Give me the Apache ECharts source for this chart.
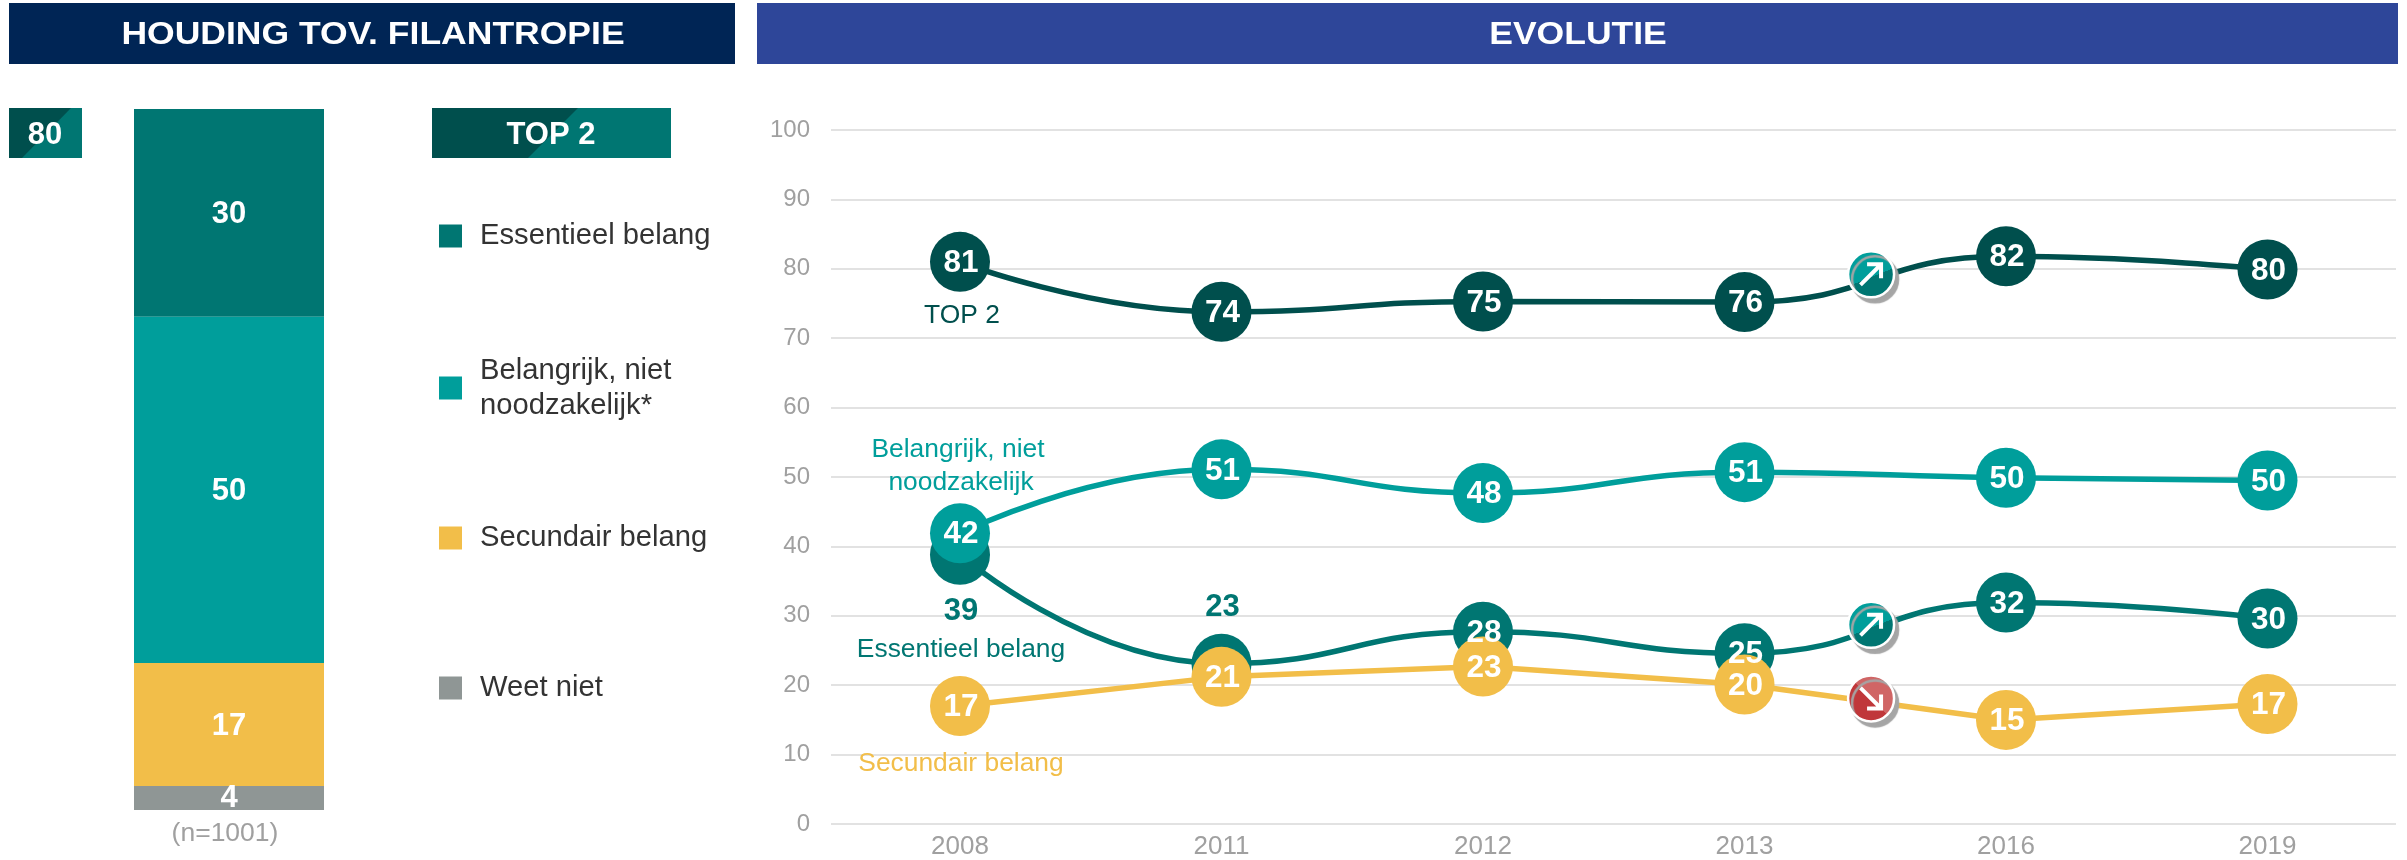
<!DOCTYPE html>
<html><head><meta charset="utf-8">
<style>html,body{margin:0;padding:0;background:#fff}#c{width:2407px;height:860px}</style>
<script src="https://cdn.jsdelivr.net/npm/echarts@6/dist/echarts.min.js"></script>
</head><body><div id="c"></div>
<script>
const years = ['2008','2011','2012','2013','2016','2019'];
const top2Values = [81,73.8,75.3,75.2,81.8,79.9];
const top2Labels = [81,74,75,76,82,80];
const essentieelValues = [38.8,23.1,27.7,24.6,31.9,29.6];
const essentieelLabels = [39,23,28,25,32,30];
const belangrijkValues = [41.9,51.1,47.7,50.7,49.9,49.5];
const belangrijkLabels = [42,51,48,51,50,50];
const secundairValues = [17,21.2,22.7,20.1,15,17.3];
const secundairLabels = [17,21,23,20,15,17];
const arrowUpPoints = [[3.484,79.2],[3.484,28.7]];
const arrowDownPoints = [[3.484,18.1]];
const barNames = ['Essentieel belang','Belangrijk, niet noodzakelijk*','Secundair belang','Weet niet'];
const barValues = [30,50,17.75,3.46];
const barLabels = [30,50,17,4];
const COL = {top2:'#004F4D',ess:'#007672',bel:'#009E9B',sec:'#F2BE49',wn:'#8F9695'};
const FONT = '"Liberation Sans", Arial, sans-serif';
const barColors = [COL.ess,COL.bel,COL.sec,COL.wn];
const legendTops = [236,388,538,688];

const chart = echarts.init(document.getElementById('c'),null,{renderer:'canvas'});

function bar(i){
  return {type:'bar',name:barNames[i],stack:'a',xAxisIndex:1,yAxisIndex:1,barWidth:'100%',
    itemStyle:{color:barColors[i]},data:[barValues[i]],z:2,
    label:{show:true,position:'inside',offset:[0,i===3?0:2],formatter:String(barLabels[i]),color:'#fff',fontFamily:FONT,fontWeight:'bold',fontSize:31}};
}
function line(name,color,vals,labs,smooth,extra){
  return {type:'line',name,xAxisIndex:0,yAxisIndex:0,smooth,symbol:'circle',symbolSize:60,
    showSymbol:true,lineStyle:{color,width:5.5},itemStyle:{color},z:3,
    data:vals.map((v,i)=>{
      const d={value:[i,v],label:{formatter:String(labs[i])}};
      if(extra&&extra[i]) d.label=Object.assign(d.label,extra[i]);
      return d;
    }),
    label:{show:true,position:'inside',offset:[1,1.5],color:'#fff',fontFamily:FONT,fontWeight:'bold',fontSize:31.5}};
}
function split(x,y,x2,y2,a,b,p){
  return {type:'linear',x,y,x2,y2,colorStops:[{offset:0,color:a},{offset:p,color:a},{offset:p,color:b},{offset:1,color:b}]};
}
function badgeCircle(data,fill){
  return {type:'scatter',xAxisIndex:0,yAxisIndex:0,symbol:'circle',symbolSize:46,data,z:5,silent:true,
    itemStyle:{opacity:1,color:fill,borderColor:'#fff',borderWidth:2.5,shadowColor:'#a5a5a5',shadowOffsetX:4,shadowOffsetY:5,shadowBlur:1}};
}
function badgeArrow(data,path){
  return {type:'scatter',xAxisIndex:0,yAxisIndex:0,symbol:path,symbolSize:24,data,z:6,silent:true,itemStyle:{opacity:1,color:'#fff'}};
}
const ARROW_UP='path://M8 0L24 0L24 16L20 16L20 6.8L2.8 24L0 21.2L17.2 4L8 4Z';
const ARROW_DOWN='path://M8 24L24 24L24 8L20 8L20 17.2L2.8 0L0 2.8L17.2 20L8 20Z';

function head(x,w,color,text,cx){
  return [
    {type:'rect',shape:{x,y:3,width:w,height:61},style:{fill:color},silent:true},
    {type:'text',x:cx,y:35,scaleX:1.11,style:{text,fill:'#fff',font:'bold 32px '+FONT,align:'center',verticalAlign:'middle'},silent:true}
  ];
}
function badge(x0,x1,xt,xb,text,cx,right){
  return [
    {type:'rect',shape:{x:x0,y:108,width:x1-x0,height:50},style:{fill:right},silent:true},
    {type:'polygon',shape:{points:[[x0,108],[xt,108],[xb,158],[x0,158]]},style:{fill:COL.top2},silent:true},
    {type:'text',x:cx,y:135,style:{text,fill:'#fff',font:'bold 31px '+FONT,align:'center',verticalAlign:'middle'},silent:true}
  ];
}
function note(text,cx,cy,color){
  return {type:'text',x:cx,y:cy+1,z:20,style:{text,fill:color,font:'26.4px '+FONT,align:'center',verticalAlign:'middle'},silent:true};
}

chart.setOption({
  animation:false,
  backgroundColor:'#fff',
  grid:[
    {left:831,top:130,width:1565,height:694},
    {left:134,top:109,width:190,height:701}
  ],
  xAxis:[
    {type:'value',gridIndex:0,min:-0.4933,max:5.4914,splitLine:{show:false},axisLine:{show:false},axisTick:{show:false},
     axisLabel:{customValues:[0,1,2,3,4,5],formatter:v=>years[Math.round(v)],color:'#A0A0A0',fontFamily:FONT,fontSize:26,margin:10,showMinLabel:true,showMaxLabel:true}},
    {type:'category',gridIndex:1,data:['(n=1001)'],axisLine:{show:false},axisTick:{show:false},
     axisLabel:{color:'#A0A0A0',fontFamily:FONT,fontSize:26.5,margin:10,padding:[0,8,0,0]}}
  ],
  yAxis:[
    {type:'value',gridIndex:0,min:0,max:100,interval:10,axisLine:{show:false},axisTick:{show:false},
     axisLabel:{color:'#A0A0A0',fontFamily:FONT,fontSize:24,margin:21},
     splitLine:{show:true,lineStyle:{color:'#E2E2E2',width:2}}},
    {type:'value',gridIndex:1,inverse:true,min:0,max:101.21,show:false,splitLine:{show:false}}
  ],
  legend:barNames.map((n,i)=>({
    data:[{name:n,icon:'rect'}],left:439,top:legendTops[i]-(i===1?35:17.5),selectedMode:false,
    orient:'vertical',padding:0,itemWidth:23,itemHeight:23,
    formatter:s=>s.replace('niet noodzakelijk','niet\nnoodzakelijk'),
    textStyle:{color:'#333',fontFamily:FONT,fontSize:29.2,lineHeight:35,padding:[0,0,0,13]}
  })),
  series:[
    bar(0),bar(1),bar(2),bar(3),
    line('TOP 2',COL.top2,top2Values,top2Labels,true),
    line('Essentieel belang ',COL.ess,essentieelValues,essentieelLabels,true,{
      0:{color:COL.ess,fontSize:31,offset:[1,57]},
      1:{color:COL.ess,fontSize:31,offset:[1,-56]}
    }),
    line('Belangrijk, niet noodzakelijk',COL.bel,belangrijkValues,belangrijkLabels,true),
    line('Secundair belang ',COL.sec,secundairValues,secundairLabels,false),
    badgeCircle(arrowUpPoints,split(0.3,0,0.7,1,COL.bel,COL.ess,0.55)),
    badgeCircle(arrowDownPoints,split(1,0,0,1,'#D06565','#C0373A',0.5)),
    badgeArrow(arrowUpPoints,ARROW_UP),
    badgeArrow(arrowDownPoints,ARROW_DOWN)
  ],
  graphic:{elements:[
    ...head(9,726,'#002555','HOUDING TOV. FILANTROPIE',373),
    ...head(757,1641,'#2E4699','EVOLUTIE',1578),
    ...badge(9,82,71,22,'80',45,COL.ess),
    ...badge(432,671,578,528,'TOP 2',551,COL.ess),
    note('TOP 2',962,315,COL.top2),
    note('Belangrijk, niet',958,449,COL.bel),
    note('noodzakelijk',961,482,COL.bel),
    note('Essentieel belang',961,649,COL.ess),
    note('Secundair belang',961,763,COL.sec)
  ]}
});
</script></body></html>
